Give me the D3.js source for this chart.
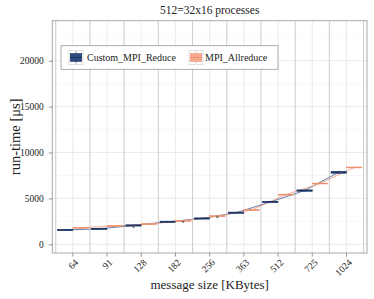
<!DOCTYPE html>
<html>
<head>
<meta charset="utf-8">
<script src="https://cdn.jsdelivr.net/npm/d3@7"></script>
<style>
  html, body { margin: 0; padding: 0; background: #fff; }
  svg { display: block; }
  text { font-family: "Liberation Serif", "DejaVu Serif", serif; fill: #222; }
</style>
</head>
<body>
<svg id="chart" width="374" height="299"></svg>
<script>
// ---- data ----
const sizes = ["64", "91", "128", "182", "256", "363", "512", "725", "1024"];
const seriesNames = ["Custom_MPI_Reduce", "MPI_Allreduce"];
const customMedian = [1560, 1680, 2050, 2450, 2810, 3440, 4610, 5850, 7840];
const customQ1     = [1490, 1610, 1980, 2380, 2740, 3370, 4540, 5770, 7740];
const customQ3     = [1630, 1750, 2120, 2520, 2880, 3510, 4690, 5930, 7950];
const customLow    = [1460, 1580, 1950, 2340, 2700, 3330, 4500, 5730, 7680];
const customHigh   = [1660, 1780, 2150, 2560, 2920, 3550, 4730, 5980, 8020];
const allMedian    = [1800, 2000, 2200, 2560, 3060, 3740, 5410, 6620, 8370];
const allQ1        = [1750, 1950, 2150, 2510, 3010, 3690, 5360, 6570, 8320];
const allQ3        = [1850, 2050, 2250, 2610, 3110, 3790, 5460, 6670, 8420];
const allLow       = [1720, 1920, 2120, 2480, 2980, 3660, 5330, 6540, 8290];
const allHigh      = [1880, 2080, 2280, 2640, 3140, 3820, 5490, 6700, 8450];
const customOutliers = [[], [], [1900], [], [], [], [], [], []];
const allOutliers    = [[], [], [], [2450], [2980], [], [], [], []];
const yTicks = [0, 5000, 10000, 15000, 20000];
const yMinor = [2500, 7500, 12500, 17500, 22500];
const titleText = "512=32x16 processes";
const xTitle = "message size [KBytes]";
const yTitle = "run-time [\u03bcs]";

// ---- layout ----
const P = { left: 52.3, right: 367, top: 20.7, bottom: 253 };
const colors = {
  fill: ["#2b4a82", "#f7ac92"],
  stroke: ["#172f5c", "#ee8a6b"],
  line: ["#3d5d93", "#f29a7e"]
};

const svg = d3.select("#chart");

const x = d3.scaleBand().domain(sizes).range([P.left, P.right])
  .paddingInner(0).paddingOuter(0.1);
const y = d3.scaleLinear().domain([-950, 24360]).range([P.bottom, P.top]);
const step = x.step();
const boxW = step * 0.45;

svg.append("rect").attr("x", P.left).attr("y", P.top)
  .attr("width", P.right - P.left).attr("height", P.bottom - P.top)
  .attr("fill", "#fff");

// minor grid
svg.append("g").selectAll("line").data(yMinor).join("line")
  .attr("x1", P.left).attr("x2", P.right)
  .attr("y1", d => y(d)).attr("y2", d => y(d))
  .attr("stroke", "#f4f4f4").attr("stroke-width", 0.6);
// major grid
svg.append("g").selectAll("line").data(yTicks).join("line")
  .attr("x1", P.left).attr("x2", P.right)
  .attr("y1", d => y(d)).attr("y2", d => y(d))
  .attr("stroke", "#e6e6e6").attr("stroke-width", 0.8);
svg.append("g").selectAll("line").data(sizes).join("line")
  .attr("x1", d => x(d) + step / 2).attr("x2", d => x(d) + step / 2)
  .attr("y1", P.top).attr("y2", P.bottom)
  .attr("stroke", "#e6e6e6").attr("stroke-width", 0.8);

// category separators
const seps = sizes.map(d => x(d)).concat([x(sizes[sizes.length - 1]) + step]);
svg.append("g").selectAll("line").data(seps).join("line")
  .attr("x1", d => d).attr("x2", d => d)
  .attr("y1", P.top).attr("y2", P.bottom)
  .attr("stroke", "#cfcfcf").attr("stroke-width", 1.1);

const series = [
  { med: customMedian, q1: customQ1, q3: customQ3, lo: customLow, hi: customHigh, out: customOutliers, off: -0.225 },
  { med: allMedian, q1: allQ1, q3: allQ3, lo: allLow, hi: allHigh, out: allOutliers, off: 0.225 }
];
const cx = (i, s) => x(sizes[i]) + step / 2 + s.off * step;

series.forEach((s, k) => {
  const line = d3.line().x((d, i) => cx(i, s)).y(d => y(d));
  svg.append("path").datum(s.med).attr("d", line)
    .attr("fill", "none").attr("stroke", colors.line[k]).attr("stroke-width", 0.8);
});

series.forEach((s, k) => {
  const g = svg.append("g");
  sizes.forEach((c, i) => {
    const xc = cx(i, s);
    g.append("line").attr("x1", xc).attr("x2", xc)
      .attr("y1", y(s.lo[i])).attr("y2", y(s.hi[i]))
      .attr("stroke", colors.stroke[k]).attr("stroke-width", 0.6);
    g.append("rect").attr("x", xc - boxW / 2).attr("width", boxW)
      .attr("y", y(s.q3[i])).attr("height", y(s.q1[i]) - y(s.q3[i]))
      .attr("fill", colors.fill[k]).attr("stroke", colors.stroke[k]).attr("stroke-width", 0.5);
    g.append("line").attr("x1", xc - boxW / 2).attr("x2", xc + boxW / 2)
      .attr("y1", y(s.med[i])).attr("y2", y(s.med[i]))
      .attr("stroke", colors.stroke[k]).attr("stroke-width", 0.8);
    s.out[i].forEach(v => {
      g.append("circle").attr("cx", xc).attr("cy", y(v)).attr("r", 1.3)
        .attr("fill", "#666").attr("opacity", 0.8);
    });
  });
});

// panel border
svg.append("rect").attr("x", P.left).attr("y", P.top)
  .attr("width", P.right - P.left).attr("height", P.bottom - P.top)
  .attr("fill", "none").attr("stroke", "#a8a8a8").attr("stroke-width", 1);

// y axis
const yAxis = svg.append("g").attr("transform", `translate(${P.left},0)`)
  .call(d3.axisLeft(y).tickValues(yTicks).tickSize(3.6).tickPadding(5).tickFormat(d3.format("d")));
yAxis.select(".domain").remove();
yAxis.selectAll(".tick line").attr("stroke", "#555").attr("stroke-width", 0.6);
yAxis.selectAll(".tick text").style("font-family", "Liberation Serif, serif")
  .style("font-size", "9.5px").attr("fill", "#333");

// x axis (ticks only, labels drawn rotated below)
const xAxis = svg.append("g").attr("transform", `translate(0,${P.bottom})`)
  .call(d3.axisBottom(x).tickSize(3.6).tickFormat(""));
xAxis.select(".domain").remove();
xAxis.selectAll(".tick line").attr("stroke", "#555").attr("stroke-width", 0.6);

svg.append("g").selectAll("g").data(sizes).join("g")
  .attr("transform", d => `translate(${x(d) + step / 2 + 1},258) rotate(-45)`)
  .append("text")
  .attr("text-anchor", "end").attr("dy", "0.75em")
  .style("font-size", "9.5px").attr("fill", "#333")
  .text(d => d);

// titles
svg.append("text").attr("x", (P.left + P.right) / 2).attr("y", 14)
  .attr("text-anchor", "middle").style("font-size", "11.5px").text(titleText);
svg.append("text").attr("x", (P.left + P.right) / 2).attr("y", 289)
  .attr("text-anchor", "middle").style("font-size", "13px").text(xTitle);
svg.append("text").attr("transform", `translate(20,${(P.top + P.bottom) / 2}) rotate(-90)`)
  .attr("text-anchor", "middle").style("font-size", "14.5px").text(yTitle);

// legend
const lg = svg.append("g");
lg.append("rect").attr("x", 61).attr("y", 45.7).attr("width", 217).attr("height", 23.6)
  .attr("fill", "#fff").attr("stroke", "#999").attr("stroke-width", 0.8);
const keyX = [69, 189], txtX = [87, 205];
seriesNames.forEach((name, k) => {
  const kx = keyX[k], ky = 50.5, ks = 14;
  lg.append("rect").attr("x", kx).attr("y", ky).attr("width", ks).attr("height", ks)
    .attr("fill", "#fff").attr("stroke", "#ccc").attr("stroke-width", 0.6);
  lg.append("line").attr("x1", kx + ks / 2).attr("x2", kx + ks / 2)
    .attr("y1", ky + 1).attr("y2", ky + ks - 1)
    .attr("stroke", colors.stroke[k]).attr("stroke-width", 0.6);
  lg.append("rect").attr("x", kx + 1.2).attr("y", ky + 3).attr("width", ks - 2.4).attr("height", ks - 6)
    .attr("fill", colors.fill[k]).attr("stroke", colors.stroke[k]).attr("stroke-width", 0.5);
  lg.append("line").attr("x1", kx + 1.2).attr("x2", kx + ks - 1.2)
    .attr("y1", ky + ks / 2).attr("y2", ky + ks / 2)
    .attr("stroke", colors.stroke[k]).attr("stroke-width", 0.8);
  lg.append("text").attr("x", txtX[k]).attr("y", ky + ks / 2).attr("dy", "0.35em")
    .style("font-size", "10px").text(name);
});
</script>
</body>
</html>
